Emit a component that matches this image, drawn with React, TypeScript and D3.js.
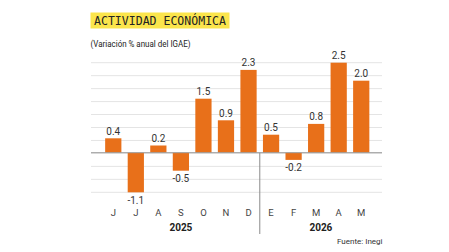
import React, { useRef, useEffect } from 'react'
import * as d3 from 'd3'

const months = ['J', 'J', 'A', 'S', 'O', 'N', 'D', 'E', 'F', 'M', 'A', 'M']
const values = [0.4, -1.1, 0.2, -0.5, 1.5, 0.9, 2.3, 0.5, -0.2, 0.8, 2.5, 2.0]
const years = ['2025', '2026']
const yearStart = [0, 7] // index of first month of each year

const W = 449
const H = 252

const App: React.FC = () => {
  const ref = useRef<SVGSVGElement>(null)

  useEffect(() => {
    if (!ref.current) return
    const svg = d3.select(ref.current)
    svg.selectAll('*').remove()

    const ids = months.map((_, i) => String(i))
    const x = d3.scaleBand()
      .domain(ids)
      .range([102, 372.5])
      .paddingInner(0.28)
      .paddingOuter(0.14)

    const yMin = d3.min(values) as number
    const yMax = d3.max(values) as number
    const y = d3.scaleLinear().domain([yMin, yMax]).range([192.3, 62.7])

    const gridLeft = 91
    const gridRight = 382
    const font = "'Liberation Sans Narrow', Roboto, 'Liberation Sans', sans-serif"

    // title
    svg.append('rect')
      .attr('x', 90.5).attr('y', 12.5).attr('width', 139).attr('height', 16)
      .attr('fill', '#fbe54c')
    svg.append('text')
      .attr('x', 94).attr('y', 25)
      .attr('font-family', "'DejaVu Sans Mono', monospace")
      .attr('font-size', 11.5)
      .attr('fill', '#222')
      .attr('textLength', 132)
      .attr('lengthAdjust', 'spacingAndGlyphs')
      .text('ACTIVIDAD ECONÓMICA')

    svg.append('text')
      .attr('x', 90.5).attr('y', 46.5)
      .attr('font-family', font)
      .attr('font-size', 9.5)
      .attr('fill', '#222')
      .attr('textLength', 100)
      .attr('lengthAdjust', 'spacingAndGlyphs')
      .text('(Variación % anual del IGAE)')

    // gridlines: 10 equal steps over the value range
    const grid = d3.range(11).map(i => yMin + (i * (yMax - yMin)) / 10)
    svg.append('g')
      .selectAll('line')
      .data(grid)
      .join('line')
      .attr('x1', gridLeft).attr('x2', gridRight)
      .attr('y1', d => y(d)).attr('y2', d => y(d))
      .attr('stroke', '#e4e4e4')
      .attr('stroke-width', 1)

    // year separator
    const sepX = ((x(String(6)) || 0) + x.bandwidth() + (x(String(7)) || 0)) / 2
    svg.append('line')
      .attr('x1', sepX).attr('x2', sepX)
      .attr('y1', y(0)).attr('y2', 234)
      .attr('stroke', '#8a8a8a')
      .attr('stroke-width', 1)

    // bars
    svg.append('g')
      .selectAll('rect')
      .data(values)
      .join('rect')
      .attr('x', (_, i) => x(String(i)) || 0)
      .attr('width', x.bandwidth())
      .attr('y', d => y(Math.max(0, d)))
      .attr('height', d => Math.abs(y(d) - y(0)))
      .attr('fill', '#e8701a')

    // zero line
    svg.append('line')
      .attr('x1', gridLeft).attr('x2', gridRight)
      .attr('y1', y(0)).attr('y2', y(0))
      .attr('stroke', '#9a9a9a')
      .attr('stroke-width', 1)

    // value labels
    svg.append('g')
      .selectAll('text')
      .data(values)
      .join('text')
      .attr('x', (_, i) => (x(String(i)) || 0) + x.bandwidth() / 2)
      .attr('y', d => (d >= 0 ? y(d) - 3.5 : y(d) + 11.5))
      .attr('text-anchor', 'middle')
      .attr('font-family', font)
      .attr('font-size', 10)
      .attr('fill', '#333')
      .text(d => d.toFixed(1))

    // month labels
    svg.append('g')
      .selectAll('text')
      .data(months)
      .join('text')
      .attr('x', (_, i) => (x(String(i)) || 0) + x.bandwidth() / 2)
      .attr('y', 216)
      .attr('text-anchor', 'middle')
      .attr('font-family', font)
      .attr('font-size', 9.5)
      .attr('fill', '#444')
      .text(d => d)

    // year labels
    const yearMid = [
      ((x(String(yearStart[0])) || 0) + (x(String(yearStart[1] - 1)) || 0) + x.bandwidth()) / 2,
      (sepX + gridRight) / 2,
    ]
    svg.append('g')
      .selectAll('text')
      .data(years)
      .join('text')
      .attr('x', (_, i) => yearMid[i])
      .attr('y', 230.5)
      .attr('text-anchor', 'middle')
      .attr('font-family', font)
      .attr('font-size', 10)
      .attr('font-weight', 'bold')
      .attr('fill', '#222')
      .text(d => d)

    svg.append('text')
      .attr('x', 382.5).attr('y', 244)
      .attr('text-anchor', 'end')
      .attr('font-family', font)
      .attr('font-size', 8)
      .attr('fill', '#333')
      .text('Fuente: Inegi')
  }, [])

  return (
    <svg
      ref={ref}
      width={W}
      height={H}
      style={{ position: 'absolute', left: 0, top: 0, background: '#fff' }}
    />
  )
}

export default App
